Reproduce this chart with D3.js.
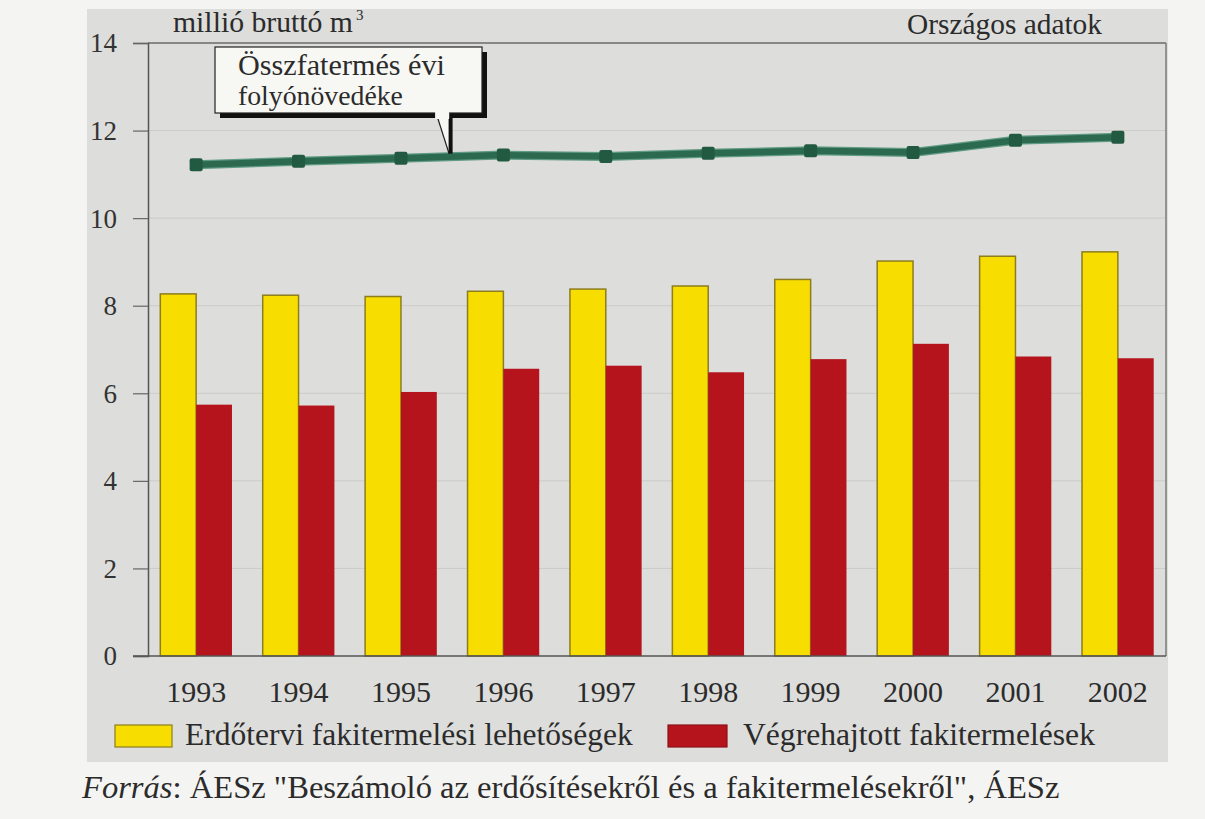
<!DOCTYPE html>
<html><head><meta charset="utf-8">
<script src="https://cdn.jsdelivr.net/npm/d3@7"></script>
</head>
<body style="margin:0;padding:0;background:#f4f4f2;">
<svg id="c" width="1205" height="819" style="display:block"></svg>
<script>
const years = ["1993","1994","1995","1996","1997","1998","1999","2000","2001","2002"];
const planned = [8.27,8.24,8.21,8.33,8.38,8.45,8.60,9.02,9.13,9.23];
const executed = [5.74,5.72,6.03,6.56,6.63,6.48,6.78,7.13,6.84,6.80];
const increment = [11.22,11.30,11.37,11.44,11.41,11.48,11.54,11.50,11.78,11.85];
const yTicks = [0,2,4,6,8,10,12,14];
const seriesNames = ["Erdőtervi fakitermelési lehetőségek","Végrehajtott fakitermelések"];
const unitLabel = "millió bruttó m";
const cornerLabel = "Országos adatok";
const calloutLines = ["Összfatermés évi","folyónövedéke"];
const sourceItalic = "Forrás";
const sourceRest = ": ÁESz \"Beszámoló az erdősítésekről és a fakitermelésekről\", ÁESz";

const FONT = "'Liberation Serif'";
const INK = "#2b2b2b";
const svg = d3.select("#c");
const L=148, R=1166, T=43, B=656;

function fit(sel, width){
  const fs = parseFloat(sel.style("font-size"));
  const w = sel.node().getComputedTextLength();
  sel.style("font-size", (fs*width/w).toFixed(2)+"px");
  return sel;
}
function txt(x,y,s,size,anchor){
  return svg.append("text").attr("x",x).attr("y",y).attr("text-anchor",anchor||"start")
    .style("font-family",FONT).style("font-size",size+"px").attr("fill",INK).text(s);
}

svg.append("rect").attr("x",87).attr("y",9).attr("width",1081).attr("height",753).attr("fill","#dddddb");

const x = d3.scaleBand().domain(years).range([L,R]).paddingInner(0.3).paddingOuter(0.12);
const xs = d3.scaleBand().domain([0,1]).range([0,x.bandwidth()]);
const y = d3.scaleLinear().domain([0,14]).range([B,T]);

svg.append("g").selectAll("line").data(yTicks.filter(d=>d>0&&d<14)).join("line")
  .attr("x1",L).attr("x2",R).attr("y1",d=>y(d)).attr("y2",d=>y(d))
  .attr("stroke","#cbcbc9").attr("stroke-width",1);

svg.append("line").attr("x1",L).attr("x2",R).attr("y1",y(14)).attr("y2",y(14)).attr("stroke","#6a6a6a").attr("stroke-width",1.5);
svg.append("line").attr("x1",R).attr("x2",R).attr("y1",y(14)).attr("y2",y(0)).attr("stroke","#7a7a7a").attr("stroke-width",1.5);

const g = svg.append("g");
g.selectAll("rect.p").data(planned).join("rect").attr("class","p")
  .attr("x",(d,i)=>x(years[i])+xs(0)).attr("width",xs.bandwidth())
  .attr("y",d=>y(d)).attr("height",d=>y(0)-y(d))
  .attr("fill","#f8de00").attr("stroke","#8c7d1e").attr("stroke-width",1.5);
g.selectAll("rect.e").data(executed).join("rect").attr("class","e")
  .attr("x",(d,i)=>x(years[i])+xs(1)).attr("width",xs.bandwidth())
  .attr("y",d=>y(d)).attr("height",d=>y(0)-y(d))
  .attr("fill","#b5141d");

const ya = d3.axisLeft(y).tickValues(yTicks).tickSize(15).tickPadding(16).tickFormat(d3.format("d"));
const yg = svg.append("g").attr("transform",`translate(${L},0)`).call(ya);
yg.attr("font-family",null);
yg.select(".domain").attr("stroke","#555").attr("stroke-width",1.5);
yg.selectAll(".tick line").attr("stroke","#666").attr("stroke-width",1.2);
yg.selectAll(".tick text").style("font-family",FONT).style("font-size","27px").attr("fill","#333").attr("dy","0.33em");

const xa = d3.axisBottom(x).tickSize(0).tickPadding(0);
const xg = svg.append("g").attr("transform",`translate(0,${B})`).call(xa);
xg.attr("font-family",null);
xg.select(".domain").remove();
svg.append("line").attr("x1",L-15).attr("x2",R).attr("y1",B).attr("y2",B).attr("stroke","#555").attr("stroke-width",1.5);
xg.selectAll(".tick text").style("font-family",FONT).style("font-size","30px").attr("fill",INK)
  .attr("dy",null).attr("y",46).each(function(){ fit(d3.select(this),60); });

const cx = i => x(years[i]) + x.bandwidth()/2;
const line = d3.line().x((d,i)=>cx(i)).y(d=>y(d));
svg.append("path").datum(increment).attr("d",line).attr("fill","none")
  .attr("stroke","#5f9a84").attr("stroke-width",9).attr("stroke-linejoin","round");
svg.append("path").datum(increment).attr("d",line).attr("fill","none")
  .attr("stroke","#2c6a50").attr("stroke-width",6.5).attr("stroke-linejoin","round");
svg.append("g").selectAll("rect").data(increment).join("rect")
  .attr("x",(d,i)=>cx(i)-6.5).attr("y",d=>y(d)-6.5).attr("width",13).attr("height",13)
  .attr("fill","#225a41").attr("rx",2);

const bx=215, by=47, bw=267, bh=66;
const f = 0.47;
const px = cx(2) + (cx(3)-cx(2))*f;
const tipY = y(d3.interpolateNumber(increment[2],increment[3])(f)) - 3;
svg.append("rect").attr("x",bx+5).attr("y",by+5).attr("width",bw).attr("height",bh).attr("fill","#111");
svg.append("rect").attr("x",bx).attr("y",by).attr("width",bw).attr("height",bh).attr("fill","#f7f7f4").attr("stroke","#222").attr("stroke-width",1.2);
svg.append("path").attr("d",`M${px-13},${by+bh} L${px},${tipY} L${px},${by+bh}`).attr("fill","#f7f7f4").attr("stroke","none");
svg.append("line").attr("x1",px-13).attr("y1",by+bh).attr("x2",px).attr("y2",tipY).attr("stroke","#222").attr("stroke-width",1.2);
svg.append("line").attr("x1",px+1.5).attr("y1",by+bh+5).attr("x2",px+1.5).attr("y2",tipY).attr("stroke","#111").attr("stroke-width",4);
svg.append("rect").attr("x",px-14).attr("y",by+bh-1).attr("width",14).attr("height",7).attr("fill","#f7f7f4");
fit(txt(238,75,calloutLines[0],26),207);
fit(txt(238,105,calloutLines[1],26),165);

fit(txt(173,32,unitLabel,26),180);
svg.append("text").attr("x",173+180+3).attr("y",20).style("font-family",FONT).style("font-size","15px").attr("fill",INK).text("3");
fit(txt(907,34,cornerLabel,26),195);

const colors = ["#f8de00","#b5141d"];
const sw = [[115,57],[668,59]];
const tx = [[185,448],[743,352]];
seriesNames.forEach((n,i)=>{
  svg.append("rect").attr("x",sw[i][0]).attr("y",725).attr("width",sw[i][1]).attr("height",22)
    .attr("fill",colors[i]).attr("stroke",i===0?"#8c7d1e":"#8e1016").attr("stroke-width",1.2);
  fit(txt(tx[i][0],745,n,29),tx[i][1]);
});

const src = txt(82,798,"",28);
src.append("tspan").style("font-style","italic").text(sourceItalic);
src.append("tspan").text(sourceRest);
fit(src,978);
</script>
</body></html>
